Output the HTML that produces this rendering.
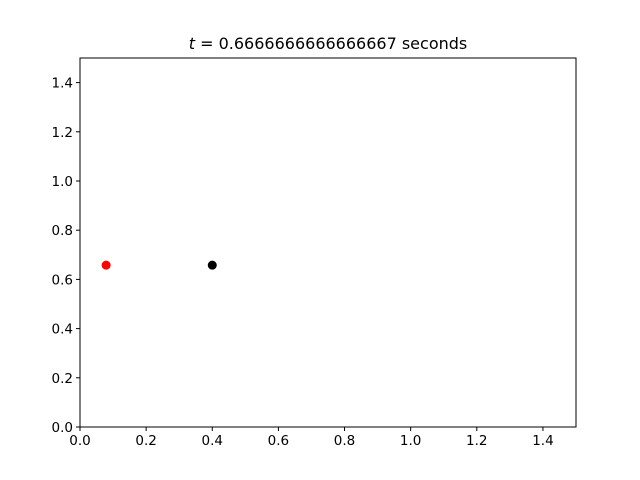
<!DOCTYPE html>
<html><head><meta charset="utf-8"><style>
body{margin:0;background:#fff}
svg{display:block;font-family:"DejaVu Sans","Liberation Sans",sans-serif}
</style></head><body>
<svg id="chart" width="640" height="480">
<rect width="640" height="480" fill="#fff"/>
<text x="328" y="49" font-size="16" text-anchor="middle"><tspan font-style="italic">t</tspan> = 0.6666666666666667 seconds</text>
<g id="ticks"></g>
<g id="marks"></g>
<rect x="80" y="58" width="496" height="369" fill="none" stroke="#000" stroke-width="1"/>
</svg>
<script>
const xTicks=[0,0.2,0.4,0.6,0.8,1.0,1.2,1.4];
const yTicks=[0,0.2,0.4,0.6,0.8,1.0,1.2,1.4];
const pointX=[0.079,0.4];
const pointY=[0.658,0.658];
const pointColors=["#ff0000","#000000"];
const X0=80,X1=576,Y0=427,Y1=58,MAX=1.5;
const sx=v=>X0+v/MAX*(X1-X0), sy=v=>Y0-v/MAX*(Y0-Y1);
const NS="http://www.w3.org/2000/svg";
const tg=document.getElementById('ticks'), mg=document.getElementById('marks');
function mk(t,a,p){const e=document.createElementNS(NS,t);for(const k in a)e.setAttribute(k,a[k]);p.appendChild(e);return e;}
xTicks.forEach(v=>{
 const x=sx(v);
 const l=mk('line',{x1:x,x2:x,y1:Y0,y2:Y0+4,stroke:'#000'},tg);
 
 
 const t=mk('text',{x:x,y:Y0+18,'font-size':13.5,'text-anchor':'middle'},tg);
 t.textContent=v.toFixed(1);
 
 
});
yTicks.forEach(v=>{
 const y=sy(v);
 const l=mk('line',{x1:X0-4,x2:X0,y1:y,y2:y,stroke:'#000'},tg);
 
 
 const t=mk('text',{x:X0-7,y:y+5,'font-size':13.5,'text-anchor':'end'},tg);
 t.textContent=v.toFixed(1);
 
 
});
pointX.forEach((v,i)=>{
 const c=mk('circle',{cx:sx(v),cy:sy(pointY[i]),r:4.5,fill:pointColors[i]},mg);
 
 
});
</script>
</body></html>
